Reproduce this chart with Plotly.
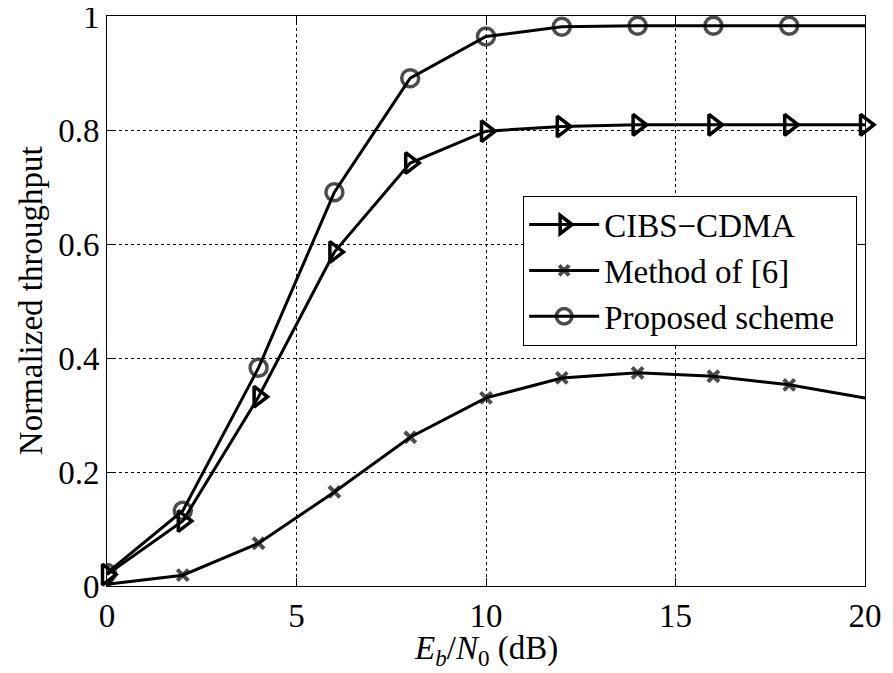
import plotly.graph_objects as go

ebn0 = [0, 2, 4, 6, 8, 10, 12, 14, 16, 18, 20]
cibs_cdma = [0.02, 0.114, 0.332, 0.586, 0.742, 0.798, 0.806, 0.809, 0.809, 0.809, 0.809]
method6 = [0.003, 0.019, 0.075, 0.165, 0.261, 0.33, 0.365, 0.374, 0.368, 0.353, 0.33]
proposed = [0.023, 0.132, 0.383, 0.691, 0.891, 0.964, 0.981, 0.983, 0.983, 0.983, 0.983]

x_ticks = [0, 5, 10, 15, 20]
y_ticks = [0, 0.2, 0.4, 0.6, 0.8, 1]
y_tick_labels = ["0", "0.2", "0.4", "0.6", "0.8", "1"]

FONT = "Times New Roman, Liberation Serif, DejaVu Serif, serif"

fig = go.Figure()
fig.add_trace(go.Scatter(
    x=ebn0, y=cibs_cdma, name="CIBS\u2212CDMA", mode="lines+markers",
    line=dict(color="black", width=3),
    marker=dict(symbol="triangle-right-open", size=18, color="black", line=dict(width=3.5, color="black")),
    cliponaxis=False,
))
fig.add_trace(go.Scatter(
    x=ebn0, y=method6, name="Method of [6]", mode="lines+markers",
    line=dict(color="black", width=3),
    marker=dict(symbol="x-thin-open", size=[11] * 10 + [0], color="black", line=dict(width=4, color="black")),
))
fig.add_trace(go.Scatter(
    x=ebn0, y=proposed, name="Proposed scheme\u00a0\u00a0", mode="lines+markers",
    line=dict(color="black", width=3),
    marker=dict(symbol="circle-open", size=[17] * 10 + [0], color="black", line=dict(width=3.5, color="black")),
))

fig.update_layout(
    width=885, height=665,
    margin=dict(l=99, r=28, t=8, b=87),
    paper_bgcolor="white", plot_bgcolor="white",
    font=dict(family=FONT, size=32, color="black"),
    showlegend=True,
    legend=dict(
        x=0.549, y=0.685, xanchor="left", yanchor="top",
        bordercolor="black", borderwidth=1, bgcolor="white",
        font=dict(family=FONT, size=33, color="black"), itemwidth=70, tracegroupgap=0,
    ),
    annotations=[
        dict(
            text="<i>E</i><sub><i>b</i></sub>/<i>N</i><sub>0</sub> (dB)",
            xref="paper", yref="paper", x=0.5, y=-0.074, xanchor="center", yanchor="top",
            showarrow=False, font=dict(family=FONT, size=33, color="black"),
        ),
        dict(
            text="Normalized throughput",
            xref="paper", yref="paper", x=-0.1, y=0.5, xanchor="center", yanchor="middle",
            textangle=-90, showarrow=False, font=dict(family=FONT, size=33, color="black"),
        ),
    ],
)
fig.update_xaxes(
    range=[0, 20], tickvals=x_ticks, ticks="inside", ticklen=8, tickcolor="black",
    showline=True, linecolor="black", linewidth=1, mirror="ticks",
    showgrid=True, gridcolor="black", gridwidth=1, griddash="dot",
    zeroline=False, tickfont=dict(family=FONT, size=33, color="black"),
    automargin=False, ticklabeloverflow="allow",
)
fig.update_yaxes(
    range=[0, 1], tickvals=y_ticks, ticktext=y_tick_labels, ticks="inside", ticklen=8, tickcolor="black",
    showline=True, linecolor="black", linewidth=1, mirror="ticks",
    showgrid=True, gridcolor="black", gridwidth=1, griddash="dot",
    zeroline=False, tickfont=dict(family=FONT, size=33, color="black"),
    automargin=False, ticklabeloverflow="allow",
)

fig.write_html("out.html")
